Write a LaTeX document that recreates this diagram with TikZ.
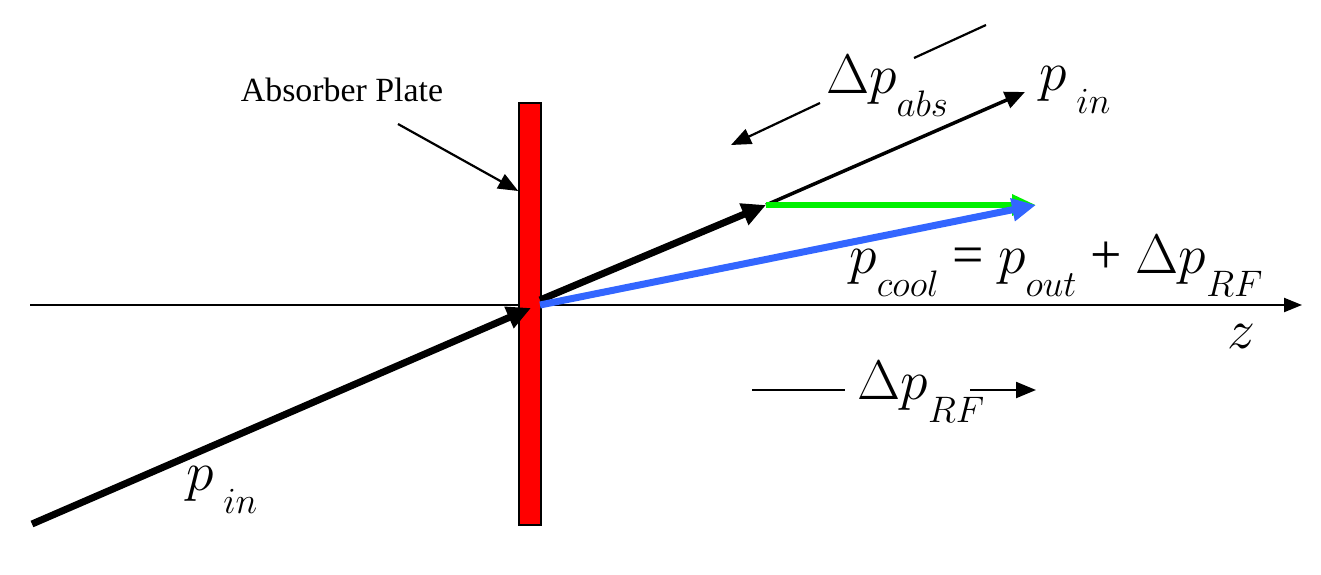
\documentclass[tikz,border=0pt]{standalone}
\usepackage{fix-cm}
\usepackage{fontspec}
\setmainfont{Liberation Serif}
\usetikzlibrary{arrows.meta}
\newcommand{\bigf}{\fontsize{56}{56}\selectfont}
\newcommand{\subf}[1]{\raisebox{-0.42em}{\fontsize{37}{37}\selectfont$#1$}}
\newcommand{\pp}{$p$}
\newcommand{\dl}{$\Delta$}
\definecolor{myblue}{RGB}{51,102,255}
\definecolor{mygreen}{RGB}{0,240,0}
\tikzset{
  thin arrow/.style={line width=2.2bp,-{Triangle[length=20bp,width=16bp]}},
  thick arrow/.style={line width=7bp,-{Triangle[length=24bp,width=22bp]}},
  lbl/.style={inner sep=0pt,anchor=center},
}
\begin{document}
\begin{tikzpicture}[x=1bp,y=-1bp]
\useasboundingbox (0,0) rectangle (1321,575);
% z axis
\coordinate (zs) at (30,305);
\coordinate (ze) at (1302,305);
\draw[line width=2.2bp,-{Triangle[length=18bp,width=14bp]}] (zs) -- (ze);
\node[lbl] (zl) at (1241,336) {\bigf$z$};
% plate
\node[draw=black,line width=1.5bp,fill=red,minimum width=22bp,minimum height=422bp,inner sep=0pt] (plate) at (530,314) {};
\node[lbl] (abs) at (342,90) {\fontsize{34}{34}\selectfont Absorber Plate};
\coordinate (absA) at (398,124);
\draw[thin arrow] (absA) -- (plate.west |- 0,191);
% incoming
\coordinate (in0) at (32,524);
\coordinate (o) at (537,305);
\draw[thick arrow] (in0) -- (531,308);
% outgoing
\coordinate (o2) at (540,300);
\coordinate (tip) at (766,205);
\draw[thick arrow] (o2) -- (tip);
\coordinate (pinE) at (1025,92);
\draw[line width=3.5bp,-{Triangle[length=20bp,width=17bp]}] (tip) -- (pinE);
% green
\coordinate (gE) at (1036,205);
\draw[mygreen,line width=6bp,-{Triangle[length=24bp,width=20bp]}] (tip) -- (gE);
% blue
\coordinate (bS) at (540,305);
\coordinate (bE) at (1036,205);
\draw[myblue,line width=7bp,-{Triangle[length=24bp,width=22bp]}] (bS) -- (bE);
% delta p abs
\coordinate (dA1) at (914,58);
\coordinate (dA2) at (986,25);
\draw[line width=2.2bp] (dA1) -- (dA2);
\coordinate (dB1) at (820,103);
\coordinate (dB2) at (731,145);
\draw[thin arrow] (dB1) -- (dB2);
\node[lbl] (dpabs) at (887,86) {\bigf\dl\pp\subf{abs}};
\node[lbl] (pin1) at (1075,90) {\bigf\pp\,\subf{in}};
\node[lbl] (pcool) at (1056,266) {\bigf\pp\subf{cool} = \pp\subf{out} + \dl\pp\subf{RF}};
% delta p RF
\coordinate (rf1) at (752,390);
\coordinate (rf2) at (845,390);
\draw[line width=2.2bp] (rf1) -- (rf2);
\coordinate (rf3) at (970,390);
\coordinate (rf4) at (1036,390);
\draw[thin arrow] (rf3) -- (rf4);
\node[lbl] (dprf) at (921,392) {\bigf\dl\pp\subf{RF}};
\node[lbl] (pin2) at (222,490) {\bigf\pp\,\subf{in}};
\end{tikzpicture}
\end{document}
